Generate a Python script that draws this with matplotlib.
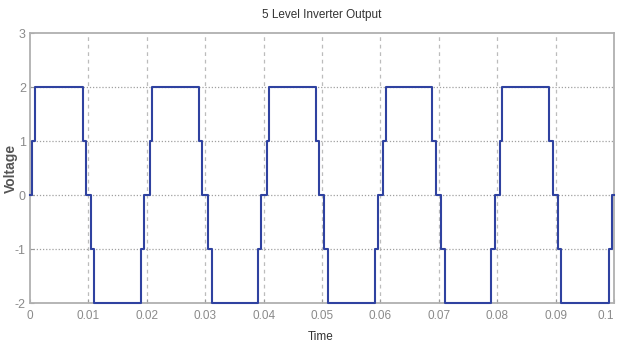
import matplotlib
matplotlib.use("Agg")
import matplotlib.pyplot as plt

# ---- data ----
title = "5 Level Inverter Output"
xlabel = "Time"
ylabel = "Voltage"

# switching instants (s) and the level reached after each switch
switch_times = [
    0.0004, 0.0009, 0.0090, 0.0096, 0.0104, 0.0110, 0.0190, 0.0196,
    0.0205, 0.0209, 0.0289, 0.0295, 0.0304, 0.0311, 0.0390, 0.0396,
    0.0405, 0.0409, 0.0489, 0.0495, 0.0504, 0.0510, 0.0590, 0.0596,
    0.0605, 0.0609, 0.0689, 0.0695, 0.0704, 0.0710, 0.0790, 0.0796,
    0.0805, 0.0809, 0.0889, 0.0895, 0.0904, 0.0910, 0.0991, 0.0997,
]
switch_levels = [
    1, 2, 1, 0, -1, -2, -1, 0,
    1, 2, 1, 0, -1, -2, -1, 0,
    1, 2, 1, 0, -1, -2, -1, 0,
    1, 2, 1, 0, -1, -2, -1, 0,
    1, 2, 1, 0, -1, -2, -1, 0,
]
t_start, t_end = 0.0, 0.1
level_start = 0

xticks = [0, 0.01, 0.02, 0.03, 0.04, 0.05, 0.06, 0.07, 0.08, 0.09, 0.1]
xticklabels = ["0", "0.01", "0.02", "0.03", "0.04", "0.05", "0.06", "0.07", "0.08", "0.09", "0.1"]
yticks = [-2, -1, 0, 1, 2, 3]
yticklabels = ["-2", "-1", "0", "1", "2", "3"]

# ---- figure ----
W, H = 617, 345
fig = plt.figure(figsize=(W / 100, H / 100), dpi=100)
ax = fig.add_axes([30 / W, 1 - 303 / H, (614 - 30) / W, (303 - 33) / H])

narrow = ["Liberation Sans Narrow", "Liberation Sans", "DejaVu Sans"]

t = [t_start] + switch_times + [t_end]
v = [level_start] + switch_levels + [switch_levels[-1]]
ax.step(t, v, where="post", color="#2f42a0", lw=1.5, clip_on=False, zorder=5)

ax.set_xlim(0, 0.1)
ax.set_ylim(-2, 3)
ax.set_xticks(xticks)
ax.set_xticklabels(xticklabels, family=narrow, fontsize=8.5, color="#8a8a8a")
ax.set_yticks(yticks)
ax.set_yticklabels(yticklabels, family=narrow, fontsize=9, color="#8a8a8a")
ax.tick_params(axis="both", direction="in", length=3, color="#999999", width=0.8)
ax.tick_params(axis="x", pad=5)
ax.tick_params(axis="y", pad=3)
# keep the last x label fully inside the picture
ax.get_xticklabels()[-1].set_horizontalalignment("right")

for x in xticks[1:-1]:
    ax.axvline(x, color="#bcbcbc", lw=0.9, ls=(0, (3, 3)), zorder=1)
for y in yticks[1:-1]:
    ax.axhline(y, color="#a0a0a0", lw=0.9, ls=(0, (1, 1.5)), zorder=1)

for s in ax.spines.values():
    s.set_color("#b0b0b0")
    s.set_linewidth(1.3)

fig.text(322 / W, 1 - 15 / H, title, ha="center", va="center",
         family=narrow, fontsize=8.5, color="#333333")
fig.text(321 / W, 1 - 337 / H, xlabel, ha="center", va="center",
         family=narrow, fontsize=8.5, color="#333333")
fig.text(11 / W, 1 - 168 / H, ylabel, ha="center", va="center", rotation=90,
         family=["Liberation Sans", "DejaVu Sans"], fontweight="bold",
         fontsize=10, color="#555555")

fig.savefig("out.png", dpi=100)
